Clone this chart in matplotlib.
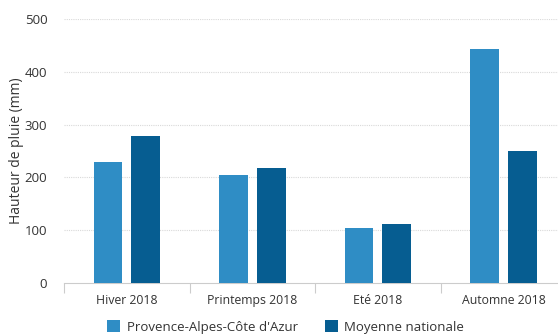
import numpy as np
from matplotlib import pyplot as plt

saisons = ['Hiver 2018', 'Printemps 2018', 'Eté 2018', 'Automne 2018']
paca = [229, 204, 104, 443]
nationale = [278, 218, 112, 250]
yticks = [0, 100, 200, 300, 400, 500]

plt.rcParams['font.family'] = ['Open Sans', 'DejaVu Sans']

fig = plt.figure(figsize=(5.58, 3.36), dpi=100)
ax = fig.add_axes([0.1147, 0.158, 0.9, 0.785])

x = np.arange(len(saisons))
largeur = 0.23
ax.bar(x - 0.15, paca, largeur, color='#2f8dc5', label="Provence-Alpes-Côte d'Azur", zorder=3)
ax.bar(x + 0.15, nationale, largeur, color='#065d91', label='Moyenne nationale', zorder=3)

ax.set_xlim(-0.5, 3.5)
ax.set_ylim(0, 500)
ax.set_yticks(yticks)
ax.set_xticks(x)
ax.set_xticklabels(saisons)
# separateurs entre categories sur l'axe x
ax.set_xticks(np.arange(-0.5, 4.0, 1.0), minor=True)
ax.tick_params(axis='x', which='major', length=0, pad=8, labelsize=8.8, labelcolor='#333333')
ax.tick_params(axis='x', which='minor', length=7, color='#cccccc', width=0.8)
ax.tick_params(axis='y', length=0, pad=12, labelsize=9.5, labelcolor='#333333')

for v in yticks[1:]:
    ax.axhline(v, color='#d9d9d9', linestyle=(0, (1, 1)), linewidth=0.8, zorder=1)

for s in ['top', 'right', 'left']:
    ax.spines[s].set_visible(False)
ax.spines['bottom'].set_color('#cccccc')
ax.spines['bottom'].set_linewidth(0.8)

ax.set_ylabel('Hauteur de pluie (mm)', fontsize=10, color='#333333')
ax.yaxis.set_label_coords(-0.08, 0.5)

fig.legend(loc='center', bbox_to_anchor=(0.512, 0.027), ncol=2, frameon=False,
           fontsize=9.5, handlelength=1.0, handleheight=1.0, handletextpad=0.5,
           columnspacing=2.0, labelcolor='#333333')

fig.savefig('out.png', dpi=100)
